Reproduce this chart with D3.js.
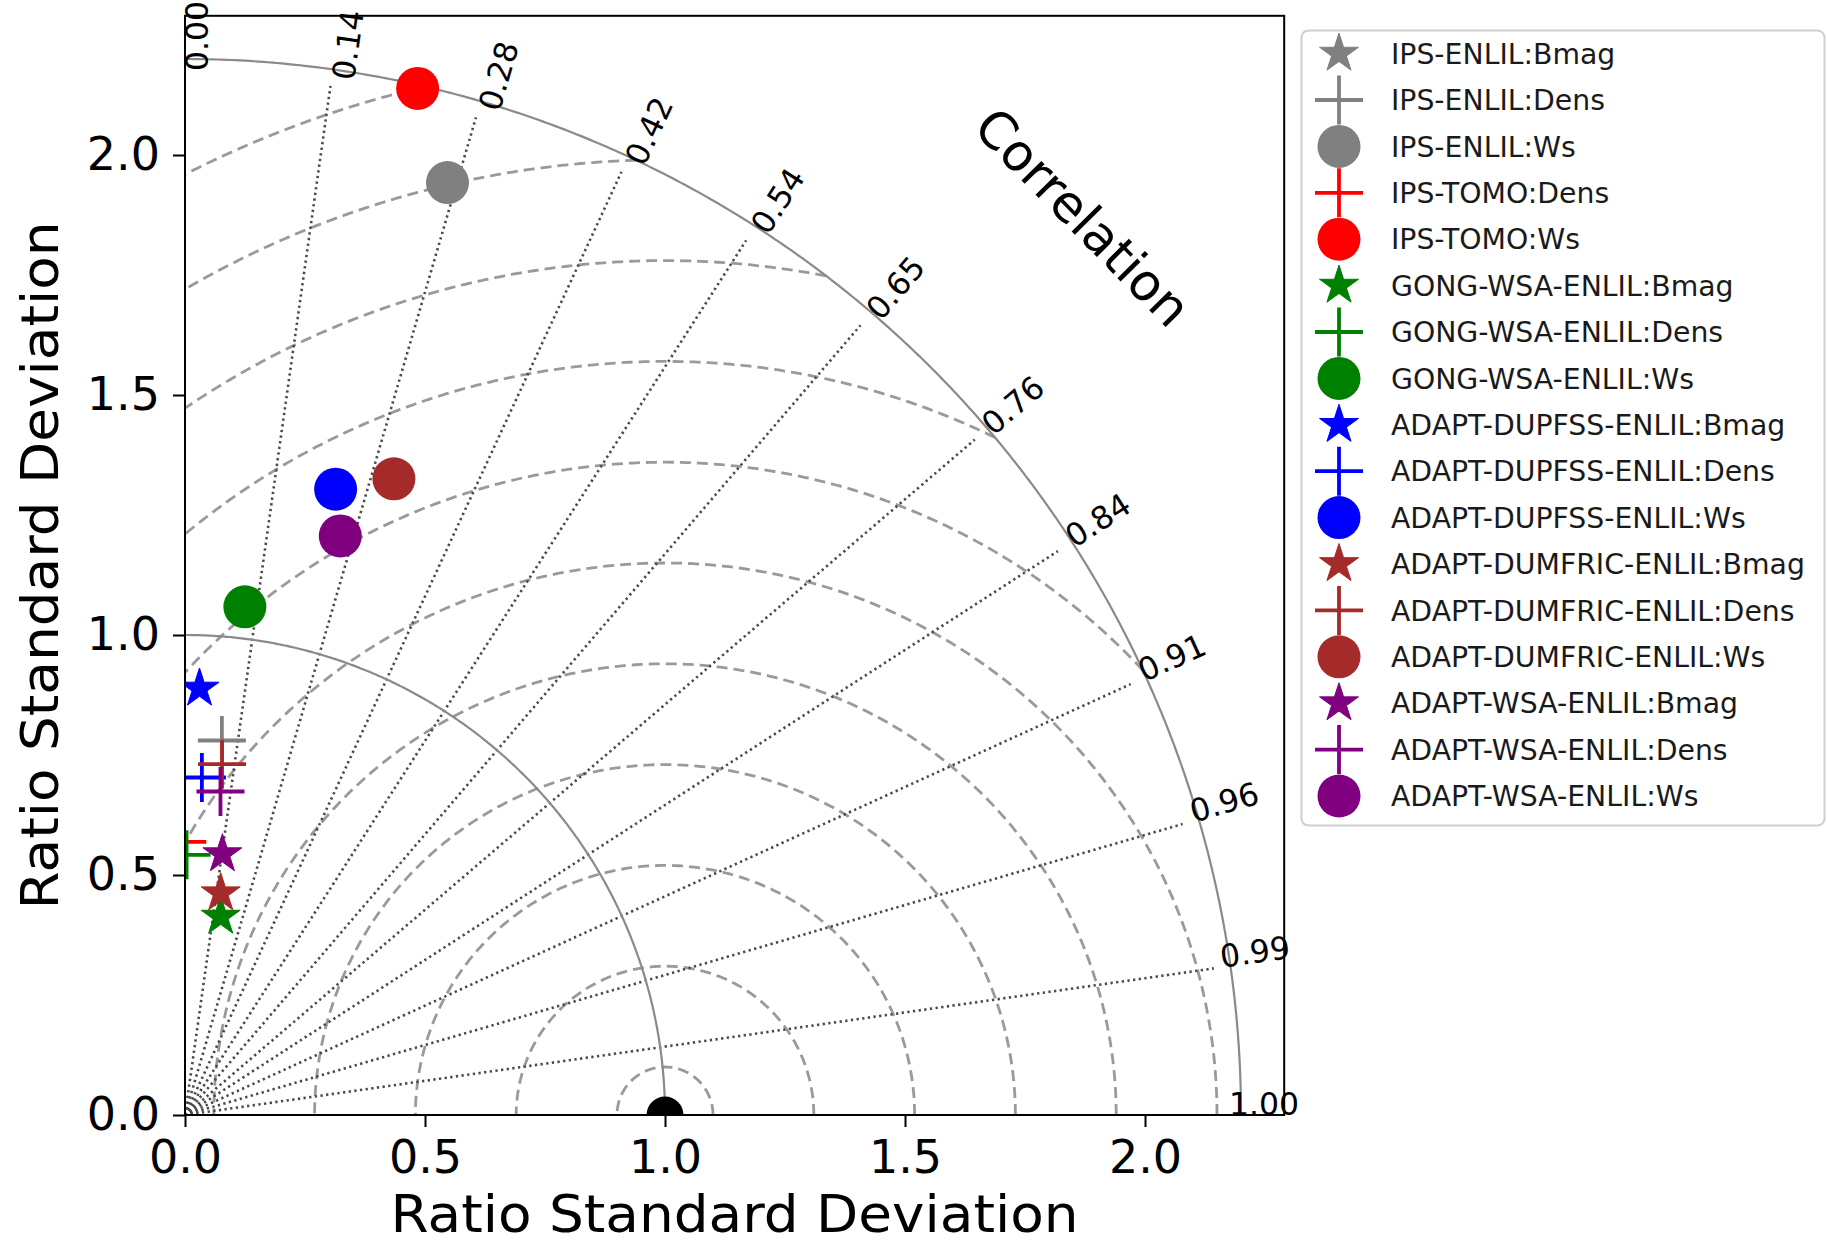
<!DOCTYPE html>
<html><head><meta charset="utf-8">
<script src="https://cdn.jsdelivr.net/npm/d3@7"></script>
<style>
html,body{margin:0;padding:0;background:#fff;}
svg{display:block;font-family:"DejaVu Sans",sans-serif;}
</style></head><body>
<svg id="chart" width="1827" height="1245"></svg>
<script>
// Taylor diagram: ratio of standard deviations vs. correlation for each model/variable

const models = ["IPS-ENLIL", "IPS-TOMO", "GONG-WSA-ENLIL", "ADAPT-DUPFSS-ENLIL", "ADAPT-DUMFRIC-ENLIL", "ADAPT-WSA-ENLIL"];
const modelColors = ["#808080", "#ff0000", "#008000", "#0000ff", "#a52a2a", "#800080"];
const variables = ["Bmag", "Dens", "Ws"];
const variableMarkers = ["star", "plus", "circle"];

// one entry per plotted series (legend order)
const seriesModel    = [0, 0, 0, 1, 1, 2, 2, 2, 3, 3, 3, 4, 4, 4, 5, 5, 5];
const seriesVariable = [0, 1, 2, 1, 2, 0, 1, 2, 0, 1, 2, 0, 1, 2, 0, 1, 2];
const seriesStdRatio = [0.45, 0.784, 2.018, 0.569, 2.193, 0.420, 0.542, 1.066, 0.889, 0.704, 1.341, 0.468, 0.735, 1.395, 0.549, 0.678, 1.249];
const seriesCorrelation = [-0.20, 0.098, 0.271, -0.010, 0.221, 0.177, 0.006, 0.117, 0.034, 0.050, 0.234, 0.159, 0.105, 0.312, 0.142, 0.109, 0.259];

const corrTickLabels = ["0.00", "0.14", "0.28", "0.42", "0.54", "0.65", "0.76", "0.84", "0.91", "0.96", "0.99", "1.00"];
const stdTickValues = [0.0, 0.5, 1.0, 1.5, 2.0];
const rmsLevels = [0.10, 0.31, 0.52, 0.73, 0.94, 1.15, 1.36, 1.57, 1.78, 1.99, 2.20];
const refStd = 1.0;
const maxStd = 2.2;
const axisMax = 2.29;

// ---- layout ----
const svg = d3.select("#chart");
const left = 185, bottom = 1115, unit = 480;
const x = d3.scaleLinear().domain([0, axisMax]).range([left, left + axisMax * unit]);
const y = d3.scaleLinear().domain([0, axisMax]).range([bottom, bottom - axisMax * unit]);
const axLeft = x(0), axRight = x(axisMax), axTop = y(axisMax), axBottom = y(0);

svg.append("rect").attr("width", 1827).attr("height", 1245).attr("fill", "#fff");

svg.append("clipPath").attr("id", "axclip")
  .append("rect").attr("x", axLeft).attr("y", axTop)
  .attr("width", axRight - axLeft).attr("height", axBottom - axTop);

const plot = svg.append("g").attr("clip-path", "url(#axclip)");

const polarXY = (s, th) => [x(s * Math.cos(th)), y(s * Math.sin(th))];
const line = d3.line();

// RMS-difference contours centred on the reference point
rmsLevels.forEach(L => {
  const c1 = (maxStd * maxStd - refStd * refStd - L * L) / (2 * refStd * L);
  const phiMin = Math.acos(Math.max(-1, Math.min(1, c1)));
  const phiMax = Math.acos(Math.max(-1, Math.min(1, -refStd / L)));
  if (phiMax <= phiMin) return;
  const pts = d3.range(0, 241).map(i => {
    const p = phiMin + (phiMax - phiMin) * i / 240;
    return [x(refStd + L * Math.cos(p)), y(L * Math.sin(p))];
  });
  plot.append("path").attr("d", line(pts))
    .attr("fill", "none").attr("stroke", "#9a9a9a")
    .attr("stroke-width", 2.8).attr("stroke-dasharray", "11 6");
});

// correlation rays
const rayEnd = 2.165;
corrTickLabels.forEach(lbl => {
  const c = parseFloat(lbl);
  if (c <= 0 || c >= 1) return;
  const th = Math.acos(c);
  plot.append("path").attr("d", line([polarXY(0, th), polarXY(rayEnd, th)]))
    .attr("fill", "none").attr("stroke", "#4a4a4a")
    .attr("stroke-width", 2.6).attr("stroke-dasharray", "2.3 3.4");
});

// reference-std arc and outer arc
[refStd, maxStd].forEach(s => {
  const pts = d3.range(0, 361).map(i => polarXY(s, (Math.PI / 2) * i / 360));
  plot.append("path").attr("d", line(pts))
    .attr("fill", "none").attr("stroke", "#8a8a8a").attr("stroke-width", 2.2);
});

// ---- markers ----
function starPath(R) {
  const r = R * 0.381966;
  const pts = d3.range(10).map(k => {
    const a = -Math.PI / 2 + k * Math.PI / 5;
    const rad = k % 2 === 0 ? R : r;
    return [rad * Math.cos(a), rad * Math.sin(a)];
  });
  return "M" + pts.map(p => p[0].toFixed(2) + "," + p[1].toFixed(2)).join("L") + "Z";
}
function drawMarker(g, kind, color) {
  if (kind === "star") {
    g.append("path").attr("d", starPath(20.5)).attr("fill", color)
      .attr("stroke", color).attr("stroke-width", 1).attr("stroke-linejoin", "miter");
  } else if (kind === "plus") {
    g.append("path").attr("d", "M-24,0H24M0,-24.5V24.5")
      .attr("stroke", color).attr("stroke-width", 3.8).attr("fill", "none");
  } else {
    g.append("circle").attr("r", 21.5).attr("fill", color);
  }
}

// reference point
plot.append("circle").attr("cx", x(refStd)).attr("cy", y(0)).attr("r", 18.5).attr("fill", "#000");

seriesModel.forEach((m, i) => {
  const s = seriesStdRatio[i], c = seriesCorrelation[i];
  const px = x(s * c), py = y(s * Math.sqrt(Math.max(0, 1 - c * c)));
  const g = plot.append("g").attr("transform", `translate(${px},${py})`);
  drawMarker(g, variableMarkers[seriesVariable[i]], modelColors[m]);
});

// ---- axes ----
const fmt = d3.format(".1f");
const xAxis = svg.append("g").attr("transform", `translate(0,${axBottom})`)
  .call(d3.axisBottom(x).tickValues(stdTickValues).tickFormat(fmt).tickSize(12).tickPadding(13));
const yAxis = svg.append("g").attr("transform", `translate(${axLeft},0)`)
  .call(d3.axisLeft(y).tickValues(stdTickValues).tickFormat(fmt).tickSize(12).tickPadding(13));
[xAxis, yAxis].forEach(a => {
  a.select(".domain").remove();
  a.selectAll(".tick line").attr("stroke", "#000").attr("stroke-width", 2);
  a.selectAll(".tick text").attr("font-size", 46).attr("fill", "#000")
    .attr("font-family", "DejaVu Sans, sans-serif");
});

svg.append("rect").attr("x", axLeft).attr("y", axTop)
  .attr("width", axRight - axLeft).attr("height", axBottom - axTop)
  .attr("fill", "none").attr("stroke", "#000").attr("stroke-width", 2);

const axisTitle = "Ratio Standard Deviation";
svg.append("text").attr("x", (axLeft + axRight) / 2).attr("y", 1232)
  .attr("text-anchor", "middle").attr("font-size", 52).attr("fill", "#000")
  .attr("textLength", 688).attr("lengthAdjust", "spacingAndGlyphs")
  .text(axisTitle);
svg.append("text").attr("transform", `translate(58,${(axTop + axBottom) / 2}) rotate(-90)`)
  .attr("text-anchor", "middle").attr("font-size", 52).attr("fill", "#000")
  .attr("textLength", 688).attr("lengthAdjust", "spacingAndGlyphs")
  .text(axisTitle);

// correlation tick labels around the outer arc
const labelR = 2.175, labelSize = 31.5;
corrTickLabels.forEach(lbl => {
  const th = Math.acos(parseFloat(lbl));
  const t = svg.append("text").attr("font-size", labelSize).attr("fill", "#000").text(lbl);
  const w = t.node().getComputedTextLength();
  const a = 0.73 * labelSize;
  const cs = Math.cos(th), sn = Math.sin(th);
  const corners = [[0, 0], [w, 0], [0, -a], [w, -a]].map(([u, v]) => [u * cs + v * sn, -u * sn + v * cs]);
  const minX = d3.min(corners, d => d[0]), maxY = d3.max(corners, d => d[1]);
  const [ax, ay] = polarXY(labelR, th);
  t.attr("transform", `translate(${ax - minX},${ay - maxY}) rotate(${-th * 180 / Math.PI})`);
});

const [cx, cy] = polarXY(2.645, Math.PI / 4);
svg.append("text").attr("transform", `translate(${cx},${cy}) rotate(45.5)`)
  .attr("text-anchor", "middle").attr("dy", "0.35em")
  .attr("font-size", 51).attr("fill", "#000").text("Correlation");

// ---- legend ----
const legend = svg.append("g");
legend.append("rect").attr("x", 1301.5).attr("y", 30.5).attr("width", 523).attr("height", 795)
  .attr("rx", 7).attr("fill", "#fff").attr("stroke", "#cfcfcf").attr("stroke-width", 2);
const rowY0 = 53.6, rowStep = 46.4;
seriesModel.forEach((m, i) => {
  const yy = rowY0 + i * rowStep;
  const g = legend.append("g").attr("transform", `translate(1339,${yy})`);
  drawMarker(g, variableMarkers[seriesVariable[i]], modelColors[m]);
});
seriesModel.forEach((m, i) => {
  const yy = rowY0 + i * rowStep;
  legend.append("text").attr("x", 1391).attr("y", yy).attr("dy", "0.36em")
    .attr("font-size", 28.3).attr("fill", "#1a1a1a")
    .text(models[m] + ":" + variables[seriesVariable[i]]);
});
</script>
</body></html>
